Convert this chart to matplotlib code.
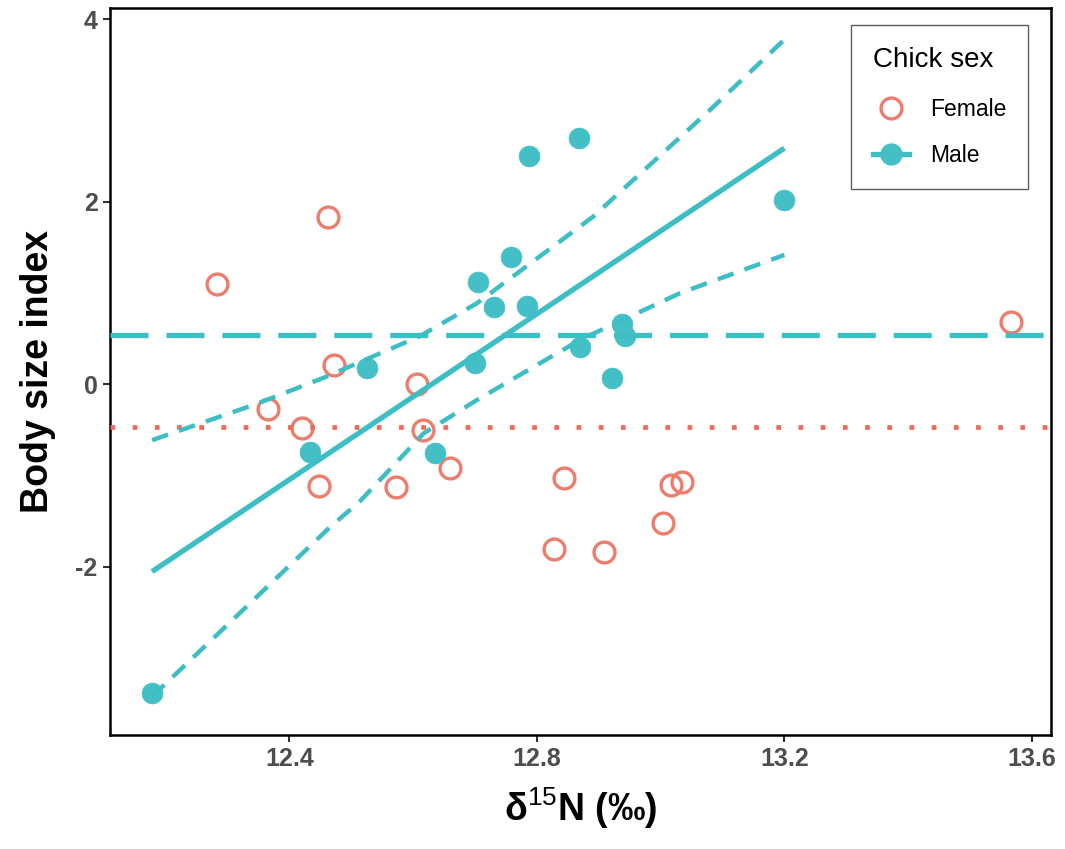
import numpy as np
import matplotlib
matplotlib.use("Agg")
import matplotlib.pyplot as plt
from matplotlib.lines import Line2D

plt.rcParams['font.family'] = ['Liberation Sans', 'DejaVu Sans']
plt.rcParams['mathtext.fontset'] = 'custom'
plt.rcParams['mathtext.rm'] = 'Liberation Sans'
plt.rcParams['mathtext.bf'] = 'Liberation Sans:bold'

# data
female_x = [12.283, 12.4625, 12.472, 12.606, 12.366, 12.420, 12.616, 12.659, 12.447,
            12.572, 12.844, 13.016, 13.035, 13.004, 12.828, 12.909, 13.566]
female_y = [1.10, 1.84, 0.21, 0.01, -0.27, -0.48, -0.50, -0.91, -1.11,
            -1.12, -1.02, -1.10, -1.065, -1.52, -1.80, -1.84, 0.69]

male_x = [12.178, 12.433, 12.526, 12.636, 12.700, 12.704, 12.731, 12.758,
          12.784, 12.787, 12.868, 12.869, 12.922, 12.938, 12.943, 13.200]
male_y = [-3.38, -0.74, 0.18, -0.75, 0.23, 1.12, 0.85, 1.40,
          0.86, 2.50, 2.70, 0.41, 0.07, 0.66, 0.53, 2.02]

female_mean = -0.462
male_mean = 0.539

# male regression line and confidence limits
fit_x = [12.178, 13.200]
fit_y = [-2.05, 2.59]
ci_up_x = [12.178, 12.348, 12.454, 12.611, 12.703, 12.891, 13.080, 13.200]
ci_up_y = [-0.61, -0.21, 0.07, 0.53, 0.89, 1.84, 3.01, 3.78]
ci_lo_x = [12.178, 12.466, 12.514, 12.617, 12.703, 12.870, 13.031, 13.200]
ci_lo_y = [-3.42, -1.56, -1.28, -0.535, -0.17, 0.49, 1.00, 1.42]

xticks = [12.4, 12.8, 13.2, 13.6]
yticks = [-2, 0, 2, 4]

red = '#EE7C6C'
red_line = '#F06A5A'
teal = '#45BFC6'
teal_line = '#3CBEC4'

fig = plt.figure(figsize=(10.65, 8.49), dpi=100)
ax = fig.add_axes([0.1033, 0.1343, 0.8836, 0.8563])

ax.plot(female_x, female_y, 'o', ms=15, mfc='none', mec=red, mew=2.4, zorder=2)
ax.plot(male_x, male_y, 'o', ms=15, mfc=teal, mec=teal, mew=0.5, zorder=2)

ax.axhline(male_mean, color=teal_line, lw=3.8, dashes=(7.2, 3.4), zorder=3)
ax.axhline(female_mean, color=red_line, lw=3.4, dashes=(1, 3.7), zorder=3)

ax.plot(fit_x, fit_y, color=teal_line, lw=3.8, solid_capstyle='butt', zorder=3)
ax.plot(ci_up_x, ci_up_y, color=teal_line, lw=3.2, dashes=(3.8, 2.6), zorder=3)
ax.plot(ci_lo_x, ci_lo_y, color=teal_line, lw=3.2, dashes=(3.8, 2.6), zorder=3)

ax.set_xlim(12.110, 13.631)
ax.set_ylim(-3.841, 4.126)
ax.set_xticks(xticks)
ax.set_yticks(yticks)
ax.set_xticklabels([f'{v:.1f}' for v in xticks])
ax.set_yticklabels([str(v) for v in yticks])

for s in ax.spines.values():
    s.set_linewidth(1.8)
    s.set_color('black')
ax.tick_params(length=5, width=1.5, color='#333333', labelcolor='#4D4D4D',
               labelsize=18, pad=4)
for lab in ax.get_xticklabels() + ax.get_yticklabels():
    lab.set_fontweight('bold')

ax.set_xlabel(r'δ$^{15}$N (‰)', fontsize=27, fontweight='bold', labelpad=10)
ax.set_ylabel('Body size index', fontsize=27, fontweight='bold', labelpad=14)

handles = [
    Line2D([], [], ls='none', marker='o', ms=15, mfc='none', mec=red, mew=2.4),
    Line2D([], [], color=teal_line, lw=3.8, marker='o', ms=15, mfc=teal, mec=teal),
]
leg = ax.legend(handles, ['Female', 'Male'], title='Chick sex', loc='upper right',
                bbox_to_anchor=(0.9756, 0.9766), fontsize=16.5, title_fontsize=20,
                frameon=True, fancybox=False, borderpad=0.95, labelspacing=1.02,
                handlelength=1.6, handletextpad=0.9, borderaxespad=0)
leg._legend_box.sep = 18
leg.get_frame().set_edgecolor('#333333')
leg.get_frame().set_linewidth(1.0)
leg._legend_box.align = 'left'

fig.savefig('out.png', dpi=100)
